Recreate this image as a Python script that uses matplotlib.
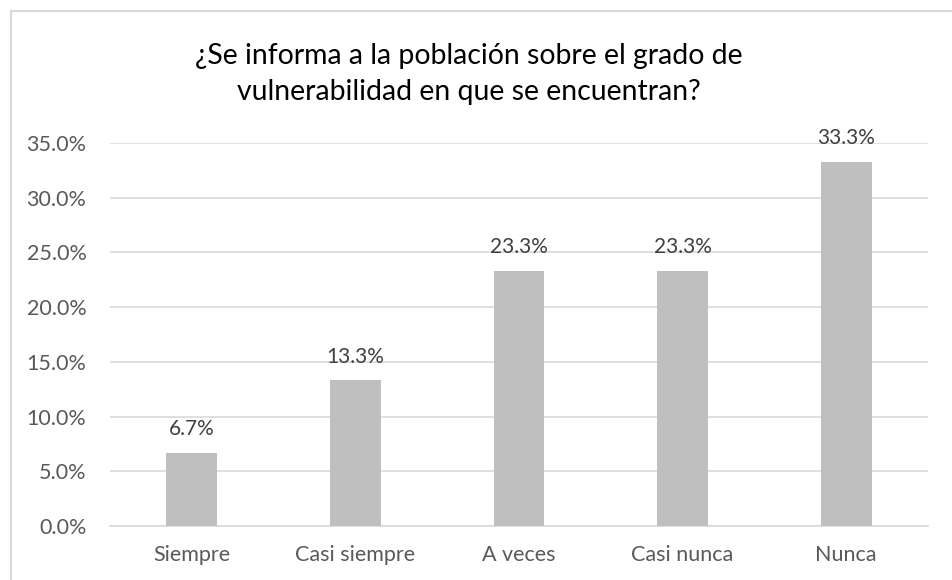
import matplotlib.pyplot as plt
from matplotlib.patches import Rectangle

# --- Chart data ---
categories = ['Siempre', 'Casi siempre', 'A veces', 'Casi nunca', 'Nunca']
porcentajes = [6.7, 13.3, 23.3, 23.3, 33.3]
y_ticks = [0, 5, 10, 15, 20, 25, 30, 35]
titulo = '¿Se informa a la población sobre el grado de\nvulnerabilidad en que se encuentran?'

plt.rcParams['font.family'] = ['Lato', 'DejaVu Sans']

W, H = 953, 580
fig = plt.figure(figsize=(W / 100, H / 100), dpi=100)

# axes placed in pixel coordinates
left, right, top, bottom = 110, 928, 143, 526
ax = fig.add_axes([left / W, 1 - bottom / H, (right - left) / W, (bottom - top) / H])

x = range(len(categories))
bars = ax.bar(x, porcentajes, width=0.31, color='#BFBFBF', zorder=3)

for xi, v in zip(x, porcentajes):
    ax.annotate(f'{v:.1f}%', (xi, v), xytext=(0, 10), textcoords='offset points',
                ha='center', va='bottom', fontsize=15, color='#404040')

ax.set_xlim(-0.5, len(categories) - 0.5)
ax.set_ylim(0, 35)
ax.set_yticks(y_ticks)
ax.set_yticklabels([f'{t:.1f}%' for t in y_ticks])
ax.set_xticks(list(x))
ax.set_xticklabels(categories)
ax.tick_params(axis='both', length=0, labelsize=15.5, labelcolor='#595959')
ax.tick_params(axis='y', pad=17)
ax.tick_params(axis='x', pad=14)
ax.grid(axis='y', color='#D9D9D9', linewidth=1.2, zorder=0)
for side in ['top', 'right', 'left']:
    ax.spines[side].set_visible(False)
ax.spines['bottom'].set_color('#D9D9D9')
ax.spines['bottom'].set_linewidth(1.2)

fig.text(469 / W, 1 - 74 / H, titulo, ha='center', va='center', fontsize=20.4,
         color='#000000', linespacing=1.45)

# chart border (extends beyond right/bottom edge)
fig.patches.append(Rectangle((11 / W, -0.1), 1.2, 1 - 11 / H + 0.1, transform=fig.transFigure,
                             fill=False, edgecolor='#D9D9D9', linewidth=1.5))

fig.savefig('out.png', dpi=100)
